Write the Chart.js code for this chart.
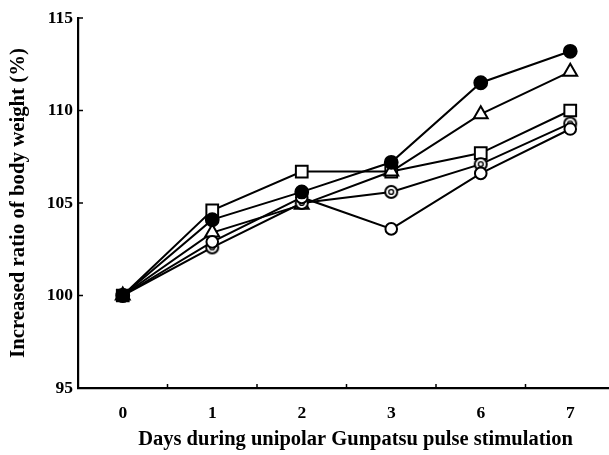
<!DOCTYPE html>
<html>
<head>
<meta charset="utf-8">
<script src="https://cdn.jsdelivr.net/npm/chart.js@4.4.0/dist/chart.umd.min.js"></script>
<style>
html,body{margin:0;padding:0;background:#fff;overflow:hidden;width:609px;height:455px;}
canvas{display:block;}
</style>
</head>
<body>
<canvas id="c" width="630" height="455"></canvas>
<script>
const days = ['0', '1', '2', '3', '6', '7'];
const filledCircle = [100, 104.1, 105.6, 107.2, 111.5, 113.2];
const openTriangle = [100, 103.4, 104.9, 106.7, 109.8, 112.1];
const openSquare = [100, 104.6, 106.7, 106.7, 107.7, 110.0];
const openCircle = [100, 102.9, 105.3, 103.6, 106.6, 109.0];
const doubleCircle = [100, 102.6, 105.0, 105.6, 107.1, 109.3];
const yTicks = [95, 100, 105, 110, 115];
const xTitle = 'Days during unipolar Gunpatsu pulse stimulation';
const yTitle = 'Increased ratio of body weight (%)';

const FONT = "'Liberation Serif', 'Times New Roman', serif";

// double circle marker
const dc = document.createElement('canvas');
dc.width = 16; dc.height = 16;
(function(){
  const g = dc.getContext('2d');
  g.fillStyle = '#fff';
  g.strokeStyle = '#000';
  g.lineWidth = 2;
  g.beginPath(); g.arc(8, 8, 6, 0, Math.PI*2); g.fill(); g.stroke();
  g.lineWidth = 1.4;
  g.beginPath(); g.arc(8, 8, 2.4, 0, Math.PI*2); g.stroke();
})();

const inwardTicks = {
  id: 'inwardTicks',
  beforeDatasetsDraw(chart) {
    const {ctx, chartArea, scales} = chart;
    ctx.save();
    ctx.strokeStyle = '#000';
    ctx.lineWidth = 1.5;
    yTicks.forEach(v => {
      const y = scales.y.getPixelForValue(v);
      ctx.beginPath(); ctx.moveTo(chartArea.left, y); ctx.lineTo(chartArea.left + 5, y); ctx.stroke();
    });
    const xs = scales.x;
    for (let i = 1; i <= days.length; i++) {
      const a = xs.getPixelForTick(i - 1);
      const x = i < days.length ? (a + xs.getPixelForTick(i)) / 2 : a + (a - xs.getPixelForTick(i - 2)) / 2;
      ctx.beginPath(); ctx.moveTo(x, chartArea.bottom); ctx.lineTo(x, chartArea.bottom - 4); ctx.stroke();
    }
    // x-axis title (slightly right of the axis centre, as in the source figure)
    ctx.fillStyle = '#000';
    ctx.font = "bold 20.5px " + FONT;
    ctx.textAlign = 'center';
    ctx.textBaseline = 'middle';
    ctx.fillText(xTitle, (chartArea.left + chartArea.right) / 2 + 9, chart.height - 15);
    ctx.restore();
  }
};

function ds(label, data, style, fill, radius, order) {
  return {
    label, data,
    borderColor: '#000', borderWidth: 2,
    pointStyle: style,
    pointRadius: radius, pointHoverRadius: radius,
    pointBackgroundColor: fill, pointBorderColor: '#000', pointBorderWidth: 2,
    tension: 0, order
  };
}

new Chart(document.getElementById('c'), {
  type: 'line',
  data: {
    labels: days,
    datasets: [
      ds('filled circle', filledCircle, 'circle', '#000', 6.4, 0),
      ds('open circle', openCircle, 'circle', '#fff', 5.8, 1),
      ds('double circle', doubleCircle, dc, '#fff', 6, 2),
      ds('open triangle', openTriangle, 'triangle', '#fff', 8, 3),
      ds('open square', openSquare, 'rect', '#fff', 8.3, 4)
    ]
  },
  options: {
    responsive: false,
    animation: false,
    layout: { padding: { top: 18, right: 15, left: 0, bottom: 0 } },
    plugins: { legend: { display: false }, tooltip: { enabled: false } },
    scales: {
      x: {
        type: 'category',
        offset: true,
        grid: { display: true, drawOnChartArea: false, drawTicks: false, offset: true },
        border: { display: true, color: '#000', width: 2.2 },
        ticks: { color: '#000', padding: 15, font: { family: FONT, size: 17.5, weight: 'bold' } },
        title: { display: false },
        afterFit(s) { s.height = 67; }
      },
      y: {
        min: 95, max: 115,
        afterBuildTicks(s) { s.ticks = yTicks.map(v => ({ value: v })); },
        grid: { display: true, drawOnChartArea: false, drawTicks: false },
        border: { display: true, color: '#000', width: 2.2 },
        ticks: { color: '#000', padding: 5, font: { family: FONT, size: 17.5, weight: 'bold' } },
        title: {
          display: true,
          text: yTitle,
          color: '#000',
          font: { family: FONT, size: 20.8, weight: 'bold' },
          padding: { top: 6, bottom: 0 }
        },
        afterFit(s) { s.width = 78; }
      }
    }
  },
  plugins: [inwardTicks]
});
</script>
</body>
</html>
